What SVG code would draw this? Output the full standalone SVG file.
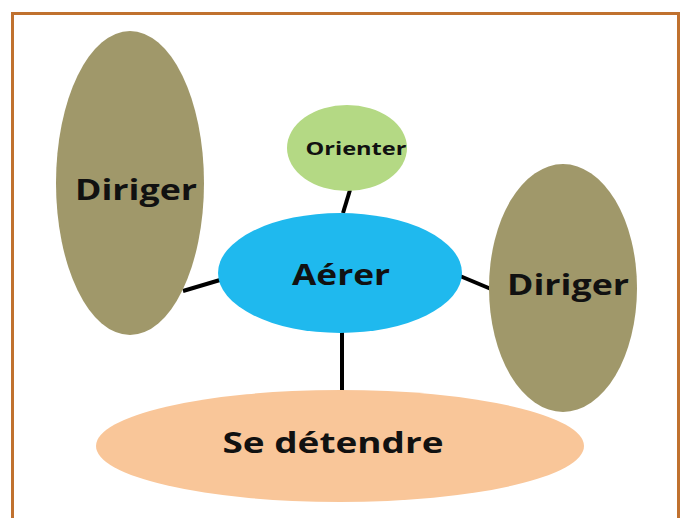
<svg xmlns="http://www.w3.org/2000/svg" width="684" height="518" viewBox="0 0 684 518">
<style>
text{font-family:"Open Sans","Noto Sans",sans-serif;font-weight:bold;fill:#111;text-anchor:middle;dominant-baseline:central}
.big{font-size:28px}
.conn line{stroke:#000;stroke-width:4}
</style>
<rect x="0" y="0" width="684" height="518" fill="#fff"/>
<rect x="12.5" y="13.5" width="666" height="530" fill="none" stroke="#C0712F" stroke-width="3"/>
<g class="conn" id="connectors">
<line x1="350" y1="190" x2="343" y2="213"/>
<line x1="183" y1="291" x2="220" y2="280"/>
<line x1="460" y1="276" x2="491" y2="289"/>
<line x1="342" y1="332" x2="342" y2="392"/>
</g>
<g id="dirigerLeft">
<ellipse cx="130" cy="183" rx="74" ry="152" fill="#A0986A"/>
<text class="big" x="136" y="189" textLength="122" lengthAdjust="spacingAndGlyphs">Diriger</text>
</g>
<g id="orienter">
<ellipse cx="347" cy="148" rx="60" ry="43" fill="#B4D984"/>
<text x="356" y="148" font-size="18" textLength="101" lengthAdjust="spacingAndGlyphs">Orienter</text>
</g>
<g id="aerer">
<ellipse cx="340" cy="273" rx="122" ry="60" fill="#1FB9EE"/>
<text class="big" x="341" y="274" textLength="98" lengthAdjust="spacingAndGlyphs">Aérer</text>
</g>
<g id="dirigerRight">
<ellipse cx="563" cy="288" rx="74" ry="124" fill="#A0986A"/>
<text class="big" x="568" y="284" textLength="122" lengthAdjust="spacingAndGlyphs">Diriger</text>
</g>
<g id="detendre">
<ellipse cx="340" cy="446" rx="244" ry="56" fill="#F9C699"/>
<text class="big" x="333" y="442" textLength="221" lengthAdjust="spacingAndGlyphs">Se détendre</text>
</g>
</svg>
